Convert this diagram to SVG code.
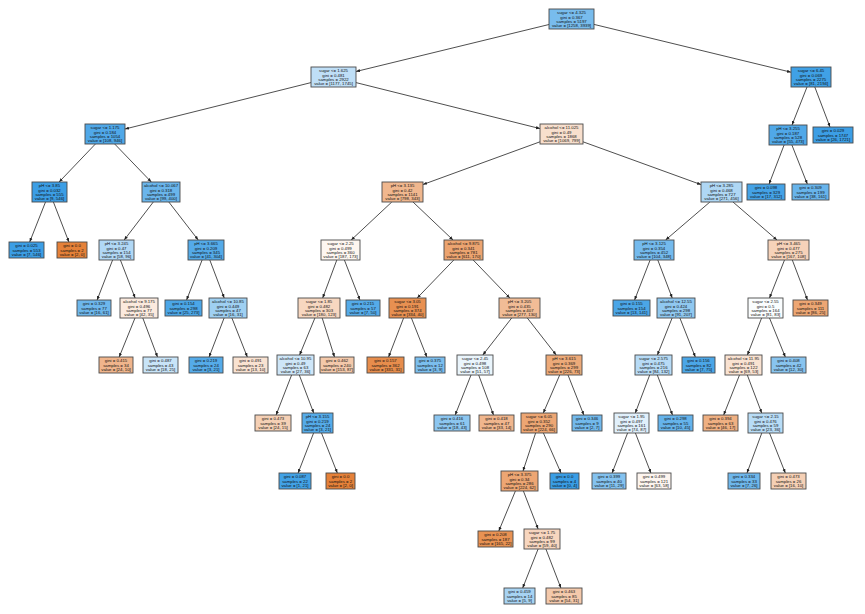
<svg xmlns="http://www.w3.org/2000/svg" width="865" height="614" viewBox="0 0 865 614">
<style>
rect{stroke:#4a4a4a;stroke-width:0.9}
text{font-family:"Liberation Sans",Arial,sans-serif;font-size:4.3px;fill:#111;text-anchor:middle}
#edges line{stroke:#222;stroke-width:0.8;marker-end:url(#ah)}
</style>
<defs>
<marker id="ah" viewBox="0 0 10 10" refX="10" refY="5" markerWidth="4" markerHeight="4" orient="auto" markerUnits="userSpaceOnUse"><path d="M0,1 L10,5 L0,9 z" fill="#222"/></marker>
</defs>
<rect x="0" y="0" width="865" height="614" fill="#fff" style="stroke:none"/>
<g id="edges">
<line x1="549" y1="24.5" x2="356" y2="71.5"/>
<line x1="594" y1="24.4" x2="791" y2="72.2"/>
<line x1="311" y1="82.6" x2="125" y2="129"/>
<line x1="356" y1="82.6" x2="540" y2="128.6"/>
<line x1="807" y1="87" x2="792" y2="125"/>
<line x1="814.8" y1="87" x2="830" y2="127"/>
<line x1="95.4" y1="144" x2="59.1" y2="182"/>
<line x1="114.7" y1="144" x2="151.3" y2="182"/>
<line x1="540" y1="141.8" x2="423" y2="184.5"/>
<line x1="583" y1="141.8" x2="701" y2="184.6"/>
<line x1="784.1" y1="145" x2="769.1" y2="184"/>
<line x1="791.9" y1="145" x2="807.3" y2="184"/>
<line x1="45.5" y1="202" x2="29.7" y2="242"/>
<line x1="53.4" y1="202" x2="68.9" y2="242"/>
<line x1="153.3" y1="202" x2="124.2" y2="240"/>
<line x1="168.8" y1="202" x2="198.2" y2="240"/>
<line x1="391.8" y1="202" x2="351.2" y2="240"/>
<line x1="413" y1="202" x2="453" y2="240"/>
<line x1="709.9" y1="202" x2="665.6" y2="240"/>
<line x1="733" y1="202" x2="777" y2="240"/>
<line x1="112.6" y1="260" x2="97.1" y2="300"/>
<line x1="120.4" y1="260" x2="135.1" y2="298"/>
<line x1="202.1" y1="260" x2="186.6" y2="300"/>
<line x1="209.8" y1="260" x2="224.2" y2="298"/>
<line x1="336.8" y1="260" x2="322.7" y2="298"/>
<line x1="344.4" y1="260" x2="359.9" y2="300"/>
<line x1="453.8" y1="260" x2="417.2" y2="298"/>
<line x1="473.2" y1="260" x2="509.8" y2="298"/>
<line x1="650.1" y1="260" x2="634.6" y2="300"/>
<line x1="657.8" y1="260" x2="672.2" y2="298"/>
<line x1="784.5" y1="260" x2="769.5" y2="298"/>
<line x1="792.3" y1="260" x2="807.5" y2="300"/>
<line x1="135" y1="318" x2="119.2" y2="357"/>
<line x1="142.8" y1="318" x2="157.5" y2="357"/>
<line x1="224.1" y1="318" x2="209.1" y2="357"/>
<line x1="231.9" y1="318" x2="247.3" y2="357"/>
<line x1="314.9" y1="318" x2="299.6" y2="355"/>
<line x1="322.2" y1="318" x2="334.5" y2="357"/>
<line x1="403.6" y1="318" x2="388.6" y2="357"/>
<line x1="411.4" y1="318" x2="426.8" y2="357"/>
<line x1="511.7" y1="318" x2="482.8" y2="355"/>
<line x1="527.3" y1="318" x2="556.2" y2="355"/>
<line x1="672.1" y1="318" x2="657.4" y2="355"/>
<line x1="679.9" y1="318" x2="695.3" y2="357"/>
<line x1="761.6" y1="318" x2="747.4" y2="355"/>
<line x1="769.5" y1="318" x2="785.3" y2="357"/>
<line x1="291.6" y1="375" x2="276.1" y2="415"/>
<line x1="299.3" y1="375" x2="313.7" y2="413"/>
<line x1="471" y1="375" x2="455.2" y2="415"/>
<line x1="478.7" y1="375" x2="493.5" y2="415"/>
<line x1="559.7" y1="375" x2="543.3" y2="413"/>
<line x1="568" y1="375" x2="583.8" y2="415"/>
<line x1="649.7" y1="375" x2="635.3" y2="413"/>
<line x1="657.3" y1="375" x2="672.5" y2="415"/>
<line x1="739.5" y1="375" x2="723.7" y2="415"/>
<line x1="747.3" y1="375" x2="761.7" y2="413"/>
<line x1="313.6" y1="433" x2="298.1" y2="473"/>
<line x1="321.5" y1="433" x2="337.3" y2="473"/>
<line x1="535.6" y1="433" x2="523" y2="471"/>
<line x1="543.4" y1="433" x2="561" y2="473"/>
<line x1="627.6" y1="433" x2="612.1" y2="473"/>
<line x1="635.4" y1="433" x2="650.9" y2="473"/>
<line x1="761.8" y1="433" x2="747" y2="473"/>
<line x1="769.5" y1="433" x2="785.3" y2="473"/>
<line x1="515.4" y1="491" x2="498.8" y2="531"/>
<line x1="523.4" y1="491" x2="538.1" y2="529"/>
<line x1="538.1" y1="549" x2="522.7" y2="588"/>
<line x1="545.9" y1="549" x2="560.9" y2="588"/>
</g>
<g id="n0"><rect x="549" y="9" width="45" height="20" fill="#78bced"/><text x="571.5" y="14.2"><tspan x="571.5">sugar &lt;= 4.325</tspan><tspan x="571.5" dy="4.4">gini = 0.367</tspan><tspan x="571.5" dy="4.4">samples = 5197</tspan><tspan x="571.5" dy="4.4">value = [1258, 3939]</tspan></text></g>
<g id="n1"><rect x="311" y="67" width="45" height="20" fill="#bfdff7"/><text x="333.5" y="72.2"><tspan x="333.5">sugar &lt;= 1.625</tspan><tspan x="333.5" dy="4.4">gini = 0.481</tspan><tspan x="333.5" dy="4.4">samples = 2922</tspan><tspan x="333.5" dy="4.4">value = [1177, 1745]</tspan></text></g>
<g id="n2"><rect x="791" y="67" width="40" height="20" fill="#40a1e6"/><text x="811" y="72.2"><tspan x="811">sugar &lt;= 6.45</tspan><tspan x="811" dy="4.4">gini = 0.069</tspan><tspan x="811" dy="4.4">samples = 2275</tspan><tspan x="811" dy="4.4">value = [81, 2194]</tspan></text></g>
<g id="n3"><rect x="85" y="124" width="40" height="20" fill="#50a8e8"/><text x="105" y="129.2"><tspan x="105">sugar &lt;= 1.175</tspan><tspan x="105" dy="4.4">gini = 0.184</tspan><tspan x="105" dy="4.4">samples = 1054</tspan><tspan x="105" dy="4.4">value = [108, 946]</tspan></text></g>
<g id="n4"><rect x="540" y="124" width="43" height="20" fill="#f8dfcd"/><text x="561.5" y="129.2"><tspan x="561.5">alcohol &lt;= 11.025</tspan><tspan x="561.5" dy="4.4">gini = 0.49</tspan><tspan x="561.5" dy="4.4">samples = 1868</tspan><tspan x="561.5" dy="4.4">value = [1069, 799]</tspan></text></g>
<g id="n5"><rect x="769" y="125" width="38" height="20" fill="#50a8e8"/><text x="788" y="130.2"><tspan x="788">pH &lt;= 3.255</tspan><tspan x="788" dy="4.4">gini = 0.187</tspan><tspan x="788" dy="4.4">samples = 528</tspan><tspan x="788" dy="4.4">value = [55, 473]</tspan></text></g>
<g id="n6"><rect x="813" y="127" width="40" height="16" fill="#3c9ee5"/><text x="833" y="132.2"><tspan x="833">gini = 0.029</tspan><tspan x="833" dy="4.4">samples = 1747</tspan><tspan x="833" dy="4.4">value = [26, 1721]</tspan></text></g>
<g id="n7"><rect x="32" y="182" width="35" height="20" fill="#3c9ee5"/><text x="49.5" y="187.2"><tspan x="49.5">pH &lt;= 3.85</tspan><tspan x="49.5" dy="4.4">gini = 0.032</tspan><tspan x="49.5" dy="4.4">samples = 555</tspan><tspan x="49.5" dy="4.4">value = [9, 546]</tspan></text></g>
<g id="n8"><rect x="142" y="182" width="38" height="20" fill="#6ab5eb"/><text x="161" y="187.2"><tspan x="161">alcohol &lt;= 10.067</tspan><tspan x="161" dy="4.4">gini = 0.318</tspan><tspan x="161" dy="4.4">samples = 499</tspan><tspan x="161" dy="4.4">value = [99, 400]</tspan></text></g>
<g id="n9"><rect x="382" y="182" width="41" height="20" fill="#f0b78e"/><text x="402.5" y="187.2"><tspan x="402.5">pH &lt;= 3.135</tspan><tspan x="402.5" dy="4.4">gini = 0.42</tspan><tspan x="402.5" dy="4.4">samples = 1141</tspan><tspan x="402.5" dy="4.4">value = [798, 343]</tspan></text></g>
<g id="n10"><rect x="701" y="182" width="41" height="20" fill="#afd7f4"/><text x="721.5" y="187.2"><tspan x="721.5">pH &lt;= 3.285</tspan><tspan x="721.5" dy="4.4">gini = 0.468</tspan><tspan x="721.5" dy="4.4">samples = 727</tspan><tspan x="721.5" dy="4.4">value = [271, 456]</tspan></text></g>
<g id="n11"><rect x="747" y="184" width="38" height="16" fill="#44a2e6"/><text x="766" y="189.2"><tspan x="766">gini = 0.098</tspan><tspan x="766" dy="4.4">samples = 329</tspan><tspan x="766" dy="4.4">value = [17, 312]</tspan></text></g>
<g id="n12"><rect x="792" y="184" width="37" height="16" fill="#68b4eb"/><text x="810.5" y="189.2"><tspan x="810.5">gini = 0.309</tspan><tspan x="810.5" dy="4.4">samples = 199</tspan><tspan x="810.5" dy="4.4">value = [38, 161]</tspan></text></g>
<g id="n13"><rect x="9" y="242" width="35" height="16" fill="#3c9ee5"/><text x="26.5" y="247.2"><tspan x="26.5">gini = 0.025</tspan><tspan x="26.5" dy="4.4">samples = 553</tspan><tspan x="26.5" dy="4.4">value = [7, 546]</tspan></text></g>
<g id="n14"><rect x="57" y="242" width="30" height="16" fill="#e58139"/><text x="72" y="247.2"><tspan x="72">gini = 0.0</tspan><tspan x="72" dy="4.4">samples = 2</tspan><tspan x="72" dy="4.4">value = [2, 0]</tspan></text></g>
<g id="n15"><rect x="99" y="240" width="35" height="20" fill="#b1d8f5"/><text x="116.5" y="245.2"><tspan x="116.5">pH &lt;= 3.245</tspan><tspan x="116.5" dy="4.4">gini = 0.47</tspan><tspan x="116.5" dy="4.4">samples = 154</tspan><tspan x="116.5" dy="4.4">value = [58, 96]</tspan></text></g>
<g id="n16"><rect x="188" y="240" width="36" height="20" fill="#54aae8"/><text x="206" y="245.2"><tspan x="206">pH &lt;= 3.665</tspan><tspan x="206" dy="4.4">gini = 0.209</tspan><tspan x="206" dy="4.4">samples = 345</tspan><tspan x="206" dy="4.4">value = [41, 304]</tspan></text></g>
<g id="n17"><rect x="321" y="240" width="39" height="20" fill="#fdf6f0"/><text x="340.5" y="245.2"><tspan x="340.5">sugar &lt;= 2.25</tspan><tspan x="340.5" dy="4.4">gini = 0.499</tspan><tspan x="340.5" dy="4.4">samples = 360</tspan><tspan x="340.5" dy="4.4">value = [187, 173]</tspan></text></g>
<g id="n18"><rect x="444" y="240" width="39" height="20" fill="#eca470"/><text x="463.5" y="245.2"><tspan x="463.5">alcohol &lt;= 9.875</tspan><tspan x="463.5" dy="4.4">gini = 0.341</tspan><tspan x="463.5" dy="4.4">samples = 781</tspan><tspan x="463.5" dy="4.4">value = [611, 170]</tspan></text></g>
<g id="n19"><rect x="634" y="240" width="40" height="20" fill="#74baed"/><text x="654" y="245.2"><tspan x="654">pH &lt;= 3.125</tspan><tspan x="654" dy="4.4">gini = 0.354</tspan><tspan x="654" dy="4.4">samples = 452</tspan><tspan x="654" dy="4.4">value = [104, 348]</tspan></text></g>
<g id="n20"><rect x="768" y="240" width="41" height="20" fill="#f6d2b9"/><text x="788.5" y="245.2"><tspan x="788.5">pH &lt;= 3.465</tspan><tspan x="788.5" dy="4.4">gini = 0.477</tspan><tspan x="788.5" dy="4.4">samples = 275</tspan><tspan x="788.5" dy="4.4">value = [167, 108]</tspan></text></g>
<g id="n21"><rect x="77" y="300" width="34" height="16" fill="#6db7ec"/><text x="94" y="305.2"><tspan x="94">gini = 0.329</tspan><tspan x="94" dy="4.4">samples = 77</tspan><tspan x="94" dy="4.4">value = [16, 61]</tspan></text></g>
<g id="n22"><rect x="120" y="298" width="38" height="20" fill="#fbeade"/><text x="139" y="303.2"><tspan x="139">alcohol &lt;= 9.175</tspan><tspan x="139" dy="4.4">gini = 0.496</tspan><tspan x="139" dy="4.4">samples = 77</tspan><tspan x="139" dy="4.4">value = [42, 35]</tspan></text></g>
<g id="n23"><rect x="165" y="300" width="37" height="16" fill="#4ba6e7"/><text x="183.5" y="305.2"><tspan x="183.5">gini = 0.154</tspan><tspan x="183.5" dy="4.4">samples = 298</tspan><tspan x="183.5" dy="4.4">value = [25, 273]</tspan></text></g>
<g id="n24"><rect x="209" y="298" width="38" height="20" fill="#9fd0f2"/><text x="228" y="303.2"><tspan x="228">alcohol &lt;= 10.85</tspan><tspan x="228" dy="4.4">gini = 0.449</tspan><tspan x="228" dy="4.4">samples = 47</tspan><tspan x="228" dy="4.4">value = [16, 31]</tspan></text></g>
<g id="n25"><rect x="298" y="298" width="42" height="20" fill="#f7d7c0"/><text x="319" y="303.2"><tspan x="319">sugar &lt;= 1.85</tspan><tspan x="319" dy="4.4">gini = 0.482</tspan><tspan x="319" dy="4.4">samples = 303</tspan><tspan x="319" dy="4.4">value = [180, 123]</tspan></text></g>
<g id="n26"><rect x="346" y="300" width="34" height="16" fill="#55abe9"/><text x="363" y="305.2"><tspan x="363">gini = 0.215</tspan><tspan x="363" dy="4.4">samples = 57</tspan><tspan x="363" dy="4.4">value = [7, 50]</tspan></text></g>
<g id="n27"><rect x="389" y="298" width="37" height="20" fill="#e89051"/><text x="407.5" y="303.2"><tspan x="407.5">sugar &lt;= 3.05</tspan><tspan x="407.5" dy="4.4">gini = 0.191</tspan><tspan x="407.5" dy="4.4">samples = 374</tspan><tspan x="407.5" dy="4.4">value = [334, 40]</tspan></text></g>
<g id="n28"><rect x="499" y="298" width="41" height="20" fill="#f1bc96"/><text x="519.5" y="303.2"><tspan x="519.5">pH &lt;= 3.205</tspan><tspan x="519.5" dy="4.4">gini = 0.435</tspan><tspan x="519.5" dy="4.4">samples = 407</tspan><tspan x="519.5" dy="4.4">value = [277, 130]</tspan></text></g>
<g id="n29"><rect x="613" y="300" width="37" height="16" fill="#4ba6e7"/><text x="631.5" y="305.2"><tspan x="631.5">gini = 0.155</tspan><tspan x="631.5" dy="4.4">samples = 154</tspan><tspan x="631.5" dy="4.4">value = [13, 141]</tspan></text></g>
<g id="n30"><rect x="657" y="298" width="38" height="20" fill="#90c8f0"/><text x="676" y="303.2"><tspan x="676">alcohol &lt;= 12.55</tspan><tspan x="676" dy="4.4">gini = 0.424</tspan><tspan x="676" dy="4.4">samples = 298</tspan><tspan x="676" dy="4.4">value = [91, 207]</tspan></text></g>
<g id="n31"><rect x="748" y="298" width="35" height="20" fill="#fafdfe"/><text x="765.5" y="303.2"><tspan x="765.5">sugar &lt;= 2.55</tspan><tspan x="765.5" dy="4.4">gini = 0.5</tspan><tspan x="765.5" dy="4.4">samples = 164</tspan><tspan x="765.5" dy="4.4">value = [81, 83]</tspan></text></g>
<g id="n32"><rect x="793" y="300" width="35" height="16" fill="#eda673"/><text x="810.5" y="305.2"><tspan x="810.5">gini = 0.349</tspan><tspan x="810.5" dy="4.4">samples = 111</tspan><tspan x="810.5" dy="4.4">value = [86, 25]</tspan></text></g>
<g id="n33"><rect x="99" y="357" width="34" height="16" fill="#f0b58c"/><text x="116" y="362.2"><tspan x="116">gini = 0.415</tspan><tspan x="116" dy="4.4">samples = 34</tspan><tspan x="116" dy="4.4">value = [24, 10]</tspan></text></g>
<g id="n34"><rect x="143" y="357" width="35" height="16" fill="#c8e4f8"/><text x="160.5" y="362.2"><tspan x="160.5">gini = 0.487</tspan><tspan x="160.5" dy="4.4">samples = 43</tspan><tspan x="160.5" dy="4.4">value = [18, 25]</tspan></text></g>
<g id="n35"><rect x="189" y="357" width="34" height="16" fill="#55abe9"/><text x="206" y="362.2"><tspan x="206">gini = 0.219</tspan><tspan x="206" dy="4.4">samples = 24</tspan><tspan x="206" dy="4.4">value = [3, 21]</tspan></text></g>
<g id="n36"><rect x="233" y="357" width="35" height="16" fill="#f9e2d1"/><text x="250.5" y="362.2"><tspan x="250.5">gini = 0.491</tspan><tspan x="250.5" dy="4.4">samples = 23</tspan><tspan x="250.5" dy="4.4">value = [13, 10]</tspan></text></g>
<g id="n37"><rect x="277" y="355" width="37" height="20" fill="#cee6f8"/><text x="295.5" y="360.2"><tspan x="295.5">alcohol &lt;= 10.95</tspan><tspan x="295.5" dy="4.4">gini = 0.49</tspan><tspan x="295.5" dy="4.4">samples = 63</tspan><tspan x="295.5" dy="4.4">value = [27, 36]</tspan></text></g>
<g id="n38"><rect x="320" y="357" width="34" height="16" fill="#f4c9aa"/><text x="337" y="362.2"><tspan x="337">gini = 0.462</tspan><tspan x="337" dy="4.4">samples = 240</tspan><tspan x="337" dy="4.4">value = [153, 87]</tspan></text></g>
<g id="n39"><rect x="367" y="357" width="37" height="16" fill="#e78d4c"/><text x="385.5" y="362.2"><tspan x="385.5">gini = 0.157</tspan><tspan x="385.5" dy="4.4">samples = 362</tspan><tspan x="385.5" dy="4.4">value = [331, 31]</tspan></text></g>
<g id="n40"><rect x="415" y="357" width="30" height="16" fill="#7bbeee"/><text x="430" y="362.2"><tspan x="430">gini = 0.375</tspan><tspan x="430" dy="4.4">samples = 12</tspan><tspan x="430" dy="4.4">value = [3, 9]</tspan></text></g>
<g id="n41"><rect x="457" y="355" width="36" height="20" fill="#eaf5fc"/><text x="475" y="360.2"><tspan x="475">sugar &lt;= 2.45</tspan><tspan x="475" dy="4.4">gini = 0.498</tspan><tspan x="475" dy="4.4">samples = 108</tspan><tspan x="475" dy="4.4">value = [51, 57]</tspan></text></g>
<g id="n42"><rect x="546" y="355" width="36" height="20" fill="#edaa79"/><text x="564" y="360.2"><tspan x="564">pH &lt;= 3.615</tspan><tspan x="564" dy="4.4">gini = 0.369</tspan><tspan x="564" dy="4.4">samples = 299</tspan><tspan x="564" dy="4.4">value = [226, 73]</tspan></text></g>
<g id="n43"><rect x="635" y="355" width="37" height="20" fill="#b7dbf6"/><text x="653.5" y="360.2"><tspan x="653.5">sugar &lt;= 2.575</tspan><tspan x="653.5" dy="4.4">gini = 0.475</tspan><tspan x="653.5" dy="4.4">samples = 216</tspan><tspan x="653.5" dy="4.4">value = [84, 132]</tspan></text></g>
<g id="n44"><rect x="682" y="357" width="33" height="16" fill="#4ba6e7"/><text x="698.5" y="362.2"><tspan x="698.5">gini = 0.156</tspan><tspan x="698.5" dy="4.4">samples = 82</tspan><tspan x="698.5" dy="4.4">value = [7, 75]</tspan></text></g>
<g id="n45"><rect x="725" y="355" width="37" height="20" fill="#f9e2d1"/><text x="743.5" y="360.2"><tspan x="743.5">alcohol &lt;= 11.95</tspan><tspan x="743.5" dy="4.4">gini = 0.491</tspan><tspan x="743.5" dy="4.4">samples = 122</tspan><tspan x="743.5" dy="4.4">value = [69, 53]</tspan></text></g>
<g id="n46"><rect x="771" y="357" width="35" height="16" fill="#88c4ef"/><text x="788.5" y="362.2"><tspan x="788.5">gini = 0.408</tspan><tspan x="788.5" dy="4.4">samples = 42</tspan><tspan x="788.5" dy="4.4">value = [12, 30]</tspan></text></g>
<g id="n47"><rect x="255" y="415" width="36" height="16" fill="#f5d0b5"/><text x="273" y="420.2"><tspan x="273">gini = 0.473</tspan><tspan x="273" dy="4.4">samples = 39</tspan><tspan x="273" dy="4.4">value = [24, 15]</tspan></text></g>
<g id="n48"><rect x="302" y="413" width="31" height="20" fill="#55abe9"/><text x="317.5" y="418.2"><tspan x="317.5">pH &lt;= 3.155</tspan><tspan x="317.5" dy="4.4">gini = 0.219</tspan><tspan x="317.5" dy="4.4">samples = 24</tspan><tspan x="317.5" dy="4.4">value = [3, 21]</tspan></text></g>
<g id="n49"><rect x="434" y="415" width="36" height="16" fill="#8cc6f0"/><text x="452" y="420.2"><tspan x="452">gini = 0.416</tspan><tspan x="452" dy="4.4">samples = 61</tspan><tspan x="452" dy="4.4">value = [18, 43]</tspan></text></g>
<g id="n50"><rect x="479" y="415" width="35" height="16" fill="#f0b68d"/><text x="496.5" y="420.2"><tspan x="496.5">gini = 0.418</tspan><tspan x="496.5" dy="4.4">samples = 47</tspan><tspan x="496.5" dy="4.4">value = [33, 14]</tspan></text></g>
<g id="n51"><rect x="521" y="413" width="36" height="20" fill="#eda673"/><text x="539" y="418.2"><tspan x="539">sugar &lt;= 6.05</tspan><tspan x="539" dy="4.4">gini = 0.352</tspan><tspan x="539" dy="4.4">samples = 290</tspan><tspan x="539" dy="4.4">value = [224, 66]</tspan></text></g>
<g id="n52"><rect x="572" y="415" width="30" height="16" fill="#72b9ec"/><text x="587" y="420.2"><tspan x="587">gini = 0.346</tspan><tspan x="587" dy="4.4">samples = 9</tspan><tspan x="587" dy="4.4">value = [2, 7]</tspan></text></g>
<g id="n53"><rect x="614" y="413" width="35" height="20" fill="#e1f0fb"/><text x="631.5" y="418.2"><tspan x="631.5">sugar &lt;= 1.95</tspan><tspan x="631.5" dy="4.4">gini = 0.497</tspan><tspan x="631.5" dy="4.4">samples = 161</tspan><tspan x="631.5" dy="4.4">value = [74, 87]</tspan></text></g>
<g id="n54"><rect x="658" y="415" width="35" height="16" fill="#65b3eb"/><text x="675.5" y="420.2"><tspan x="675.5">gini = 0.298</tspan><tspan x="675.5" dy="4.4">samples = 55</tspan><tspan x="675.5" dy="4.4">value = [10, 45]</tspan></text></g>
<g id="n55"><rect x="703" y="415" width="35" height="16" fill="#efb082"/><text x="720.5" y="420.2"><tspan x="720.5">gini = 0.394</tspan><tspan x="720.5" dy="4.4">samples = 63</tspan><tspan x="720.5" dy="4.4">value = [46, 17]</tspan></text></g>
<g id="n56"><rect x="748" y="413" width="35" height="20" fill="#b8dcf6"/><text x="765.5" y="418.2"><tspan x="765.5">sugar &lt;= 2.15</tspan><tspan x="765.5" dy="4.4">gini = 0.476</tspan><tspan x="765.5" dy="4.4">samples = 59</tspan><tspan x="765.5" dy="4.4">value = [23, 36]</tspan></text></g>
<g id="n57"><rect x="279" y="473" width="32" height="16" fill="#42a2e6"/><text x="295" y="478.2"><tspan x="295">gini = 0.087</tspan><tspan x="295" dy="4.4">samples = 22</tspan><tspan x="295" dy="4.4">value = [1, 21]</tspan></text></g>
<g id="n58"><rect x="326" y="473" width="29" height="16" fill="#e58139"/><text x="340.5" y="478.2"><tspan x="340.5">gini = 0.0</tspan><tspan x="340.5" dy="4.4">samples = 2</tspan><tspan x="340.5" dy="4.4">value = [2, 0]</tspan></text></g>
<g id="n59"><rect x="501" y="471" width="37" height="20" fill="#eda673"/><text x="519.5" y="476.2"><tspan x="519.5">pH &lt;= 3.375</tspan><tspan x="519.5" dy="4.4">gini = 0.34</tspan><tspan x="519.5" dy="4.4">samples = 286</tspan><tspan x="519.5" dy="4.4">value = [224, 62]</tspan></text></g>
<g id="n60"><rect x="550" y="473" width="29" height="16" fill="#399de5"/><text x="564.5" y="478.2"><tspan x="564.5">gini = 0.0</tspan><tspan x="564.5" dy="4.4">samples = 4</tspan><tspan x="564.5" dy="4.4">value = [0, 4]</tspan></text></g>
<g id="n65"><rect x="592" y="473" width="34" height="16" fill="#84c2ef"/><text x="609" y="478.2"><tspan x="609">gini = 0.399</tspan><tspan x="609" dy="4.4">samples = 40</tspan><tspan x="609" dy="4.4">value = [11, 29]</tspan></text></g>
<g id="n66"><rect x="637" y="473" width="34" height="16" fill="#fdf5ef"/><text x="654" y="478.2"><tspan x="654">gini = 0.499</tspan><tspan x="654" dy="4.4">samples = 121</tspan><tspan x="654" dy="4.4">value = [63, 58]</tspan></text></g>
<g id="n67"><rect x="728" y="473" width="32" height="16" fill="#6eb7ec"/><text x="744" y="478.2"><tspan x="744">gini = 0.334</tspan><tspan x="744" dy="4.4">samples = 33</tspan><tspan x="744" dy="4.4">value = [7, 26]</tspan></text></g>
<g id="n68"><rect x="771" y="473" width="35" height="16" fill="#f5d0b5"/><text x="788.5" y="478.2"><tspan x="788.5">gini = 0.473</tspan><tspan x="788.5" dy="4.4">samples = 26</tspan><tspan x="788.5" dy="4.4">value = [16, 10]</tspan></text></g>
<g id="n61"><rect x="478" y="531" width="35" height="16" fill="#e89253"/><text x="495.5" y="536.2"><tspan x="495.5">gini = 0.208</tspan><tspan x="495.5" dy="4.4">samples = 187</tspan><tspan x="495.5" dy="4.4">value = [165, 22]</tspan></text></g>
<g id="n62"><rect x="524" y="529" width="36" height="20" fill="#f7d6bf"/><text x="542" y="534.2"><tspan x="542">sugar &lt;= 1.75</tspan><tspan x="542" dy="4.4">gini = 0.482</tspan><tspan x="542" dy="4.4">samples = 99</tspan><tspan x="542" dy="4.4">value = [59, 40]</tspan></text></g>
<g id="n63"><rect x="504" y="588" width="31" height="16" fill="#a7d3f3"/><text x="519.5" y="593.2"><tspan x="519.5">gini = 0.459</tspan><tspan x="519.5" dy="4.4">samples = 14</tspan><tspan x="519.5" dy="4.4">value = [5, 9]</tspan></text></g>
<g id="n64"><rect x="546" y="588" width="36" height="16" fill="#f4c9ab"/><text x="564" y="593.2"><tspan x="564">gini = 0.463</tspan><tspan x="564" dy="4.4">samples = 85</tspan><tspan x="564" dy="4.4">value = [54, 31]</tspan></text></g>
</svg>
